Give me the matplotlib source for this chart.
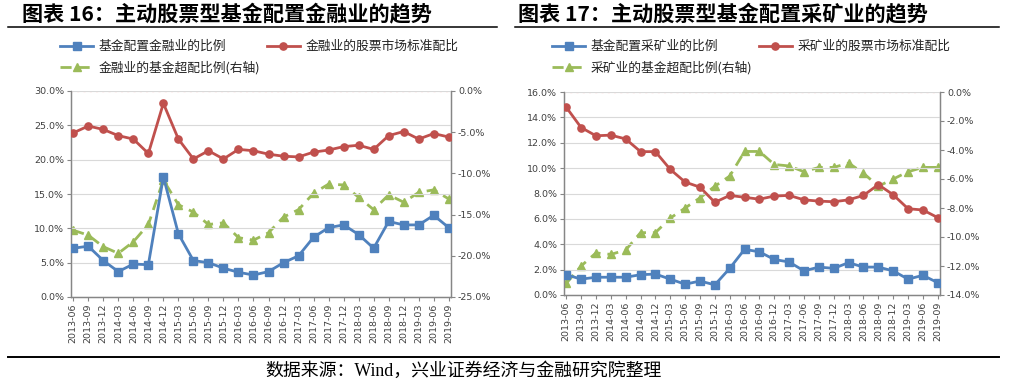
import matplotlib
matplotlib.use('Agg')
import matplotlib.pyplot as plt
from matplotlib.lines import Line2D
from matplotlib.ticker import FuncFormatter, MultipleLocator

plt.rcParams['font.family'] = ['DejaVu Sans', 'Noto Sans CJK SC']

dates = ['2013-06', '2013-09', '2013-12', '2014-03', '2014-06', '2014-09', '2014-12',
         '2015-03', '2015-06', '2015-09', '2015-12', '2016-03', '2016-06', '2016-09',
         '2016-12', '2017-03', '2017-06', '2017-09', '2017-12', '2018-03', '2018-06',
         '2018-09', '2018-12', '2019-03', '2019-06', '2019-09']

# 金融业 (%)
fin_fund = [7.1, 7.4, 5.3, 3.7, 4.8, 4.7, 17.5, 9.2, 5.3, 5.0, 4.2, 3.6, 3.2,
            3.7, 5.0, 6.0, 8.7, 10.1, 10.5, 9.1, 7.1, 11.0, 10.5, 10.5, 11.9, 10.1]
fin_mkt = [23.9, 24.9, 24.4, 23.5, 23.0, 20.9, 28.2, 23.0, 20.1, 21.3, 20.1, 21.5, 21.3,
           20.8, 20.5, 20.4, 21.1, 21.4, 21.9, 22.1, 21.5, 23.5, 24.1, 23.0, 23.8, 23.3]
fin_over = [-16.9, -17.5, -18.9, -19.7, -18.3, -16.2, -10.8, -13.8, -14.7, -16.2, -16.0, -17.8, -18.1,
            -17.2, -15.3, -14.4, -12.4, -11.3, -11.4, -12.9, -14.4, -12.6, -13.5, -12.3, -12.0, -13.1]

# 采矿业 (%)
min_fund = [1.6, 1.25, 1.4, 1.4, 1.4, 1.6, 1.65, 1.25, 0.85, 1.1, 0.8, 2.1, 3.6,
            3.4, 2.8, 2.6, 1.9, 2.2, 2.1, 2.55, 2.2, 2.2, 1.9, 1.25, 1.55, 0.97]
min_mkt = [14.8, 13.2, 12.55, 12.6, 12.3, 11.3, 11.3, 9.9, 8.9, 8.5, 7.3, 7.85, 7.7,
           7.55, 7.8, 7.85, 7.5, 7.4, 7.35, 7.5, 7.85, 8.7, 7.9, 6.8, 6.7, 6.1]
min_over = [-13.2, -12.0, -11.1, -11.2, -10.9, -9.7, -9.7, -8.7, -8.0, -7.3, -6.5, -5.8, -4.1,
            -4.1, -5.0, -5.1, -5.5, -5.2, -5.2, -4.9, -5.6, -6.5, -6.0, -5.5, -5.2, -5.2]

BLUE = '#4F81BD'
RED = '#C0504D'
GREEN = '#9BBB59'
GRID = '#D9D9D9'
AX = '#868686'
TXT = '#404040'
CJK = ['Noto Sans CJK SC']

W, H = 1014, 386
fig = plt.figure(figsize=(W / 100, H / 100), dpi=100)


def px(x0, y0, x1, y1):
    # pixel box -> figure rect
    return [x0 / W, 1 - y1 / H, (x1 - x0) / W, (y1 - y0) / H]


def panel(rect, fund, mkt, over, ylim, ystep, y2lim, y2step):
    ax = fig.add_axes(rect)
    ax2 = ax.twinx()
    x = list(range(len(dates)))
    l1, = ax.plot(x, fund, color=BLUE, lw=2, marker='s', ms=5.2, zorder=4)
    l2, = ax.plot(x, mkt, color=RED, lw=2, marker='o', ms=5.2, zorder=4)
    l3, = ax2.plot(x, over, color=GREEN, lw=2, marker='^', ms=5.8, dashes=(4, 2.5), zorder=4)
    ax2.axhline(0, color='#FF0000', lw=1.5, ls=(0, (1, 2)), zorder=5)
    ax.set_ylim(*ylim)
    ax2.set_ylim(*y2lim)
    ax.yaxis.set_major_locator(MultipleLocator(ystep))
    ax2.yaxis.set_major_locator(MultipleLocator(y2step))
    ax.yaxis.set_major_formatter(FuncFormatter(lambda v, p: '%.1f%%' % v))
    ax2.yaxis.set_major_formatter(FuncFormatter(lambda v, p: '%.1f%%' % v))
    ax.set_xlim(-0.15, len(dates) - 0.85)
    ax.set_xticks(x)
    ax.set_xticklabels(dates, rotation=90)
    ax.grid(axis='y', color=GRID, lw=0.8)
    ax.set_axisbelow(True)
    for a in (ax, ax2):
        a.spines['top'].set_visible(False)
        for s in ('left', 'right', 'bottom'):
            a.spines[s].set_color(AX)
            a.spines[s].set_linewidth(0.9)
        a.tick_params(labelsize=6.8, colors=TXT, length=3, width=0.8, pad=2, color=AX)
    ax.set_zorder(ax2.get_zorder() + 1)
    ax.patch.set_visible(False)
    return [l1, l3, l2]


def legend(handles, names, x, y):
    fig.legend(handles, [names[0], names[2], names[1]], ncol=2, loc='upper left',
               bbox_to_anchor=(x / W, 1 - y / H), frameon=False,
               prop={'family': CJK, 'size': 9.2}, handlelength=2.6,
               handletextpad=0.45, columnspacing=0.5, labelspacing=0.6,
               borderaxespad=0, borderpad=0, labelcolor='#222222')


names1 = ['基金配置金融业的比例', '金融业的股票市场标准配比', '金融业的基金超配比例(右轴)']
h1 = panel(px(71, 91, 451, 297), fin_fund, fin_mkt, fin_over, (0, 30), 5, (-25, 0), 5)
legend(h1, names1, 60, 40)

names2 = ['基金配置采矿业的比例', '采矿业的股票市场标准配比', '采矿业的基金超配比例(右轴)']
h2 = panel(px(564, 92, 940, 295), min_fund, min_mkt, min_over, (0, 16), 2, (-14, 0), 2)
legend(h2, names2, 552, 40)

# titles and rules
fig.text(22 / W, 1 - 14 / H, '图表 16：主动股票型基金配置金融业的趋势', family=CJK,
         fontsize=15.2, fontweight='bold', va='center', color='black')
fig.text(518 / W, 1 - 14 / H, '图表 17：主动股票型基金配置采矿业的趋势', family=CJK,
         fontsize=15.2, fontweight='bold', va='center', color='black')
fig.add_artist(Line2D([8 / W, 497 / W], [1 - 26.5 / H] * 2, color='black', lw=1.1))
fig.add_artist(Line2D([515 / W, 999 / W], [1 - 26.5 / H] * 2, color='black', lw=1.1))
fig.add_artist(Line2D([8 / W, 999 / W], [1 - 356.5 / H] * 2, color='black', lw=1.4))
fig.text(265 / W, 1 - 371 / H, '数据来源：Wind，兴业证券经济与金融研究院整理',
         family=['Liberation Serif', 'Noto Sans CJK SC'], fontsize=12.9, va='center', color='black')

fig.savefig('out.png', dpi=100)
